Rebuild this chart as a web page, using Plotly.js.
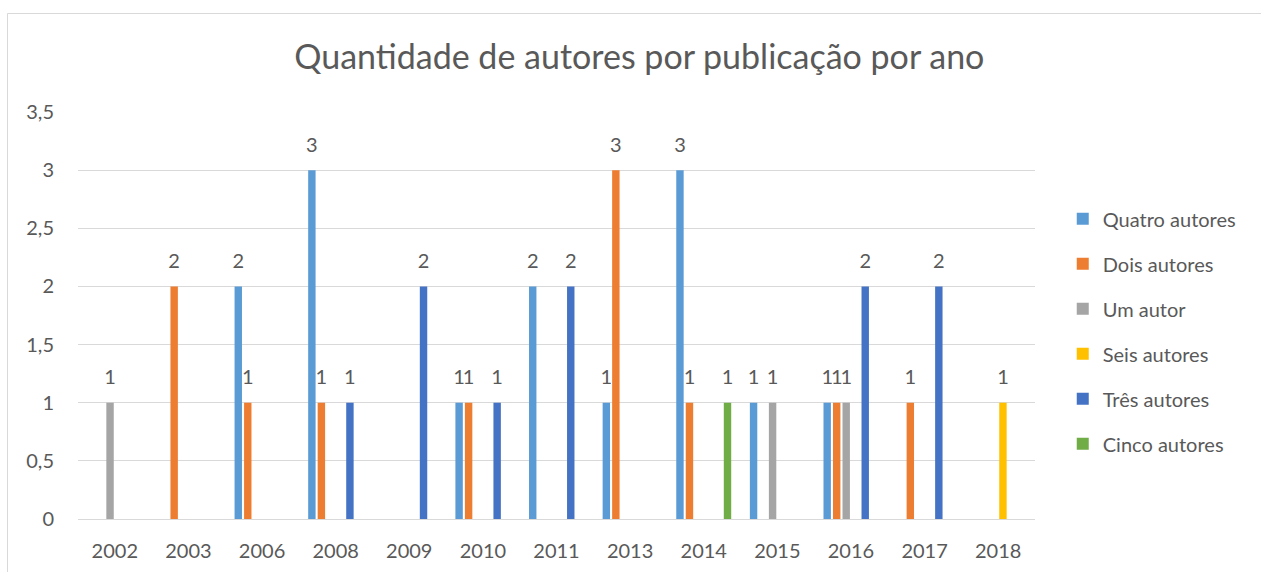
<!DOCTYPE html>
<html>
<head>
<meta charset="utf-8">
<script src="https://cdn.plot.ly/plotly-3.0.1.min.js"></script>
<style>
  html, body { margin: 0; padding: 0; background: #fff; }
  #chart { width: 1261px; height: 572px; }
</style>
</head>
<body>
<div id="chart"></div>
<script>
const years = ['2002','2003','2006','2008','2009','2010','2011','2013','2014','2015','2016','2017','2018'];
const seriesNames = ['Quatro autores','Dois autores','Um autor','Seis autores','Três autores','Cinco autores'];
const quatro = [null, null, 2, 3, null, 1, 2, 1, 3, 1, 1, null, null];
const dois   = [null, 2, 1, 1, null, 1, null, 3, 1, null, 1, 1, null];
const um     = [1, null, null, null, null, null, null, null, null, 1, 1, null, null];
const seis   = [null, null, null, null, null, null, null, null, null, null, null, null, 1];
const tres   = [null, null, null, 1, 2, 1, 2, null, null, null, 2, 2, null];
const cinco  = [null, null, null, null, null, null, null, null, 1, null, null, null, null];
const colors = ['#5B9BD5','#ED7D31','#A5A5A5','#FFC000','#4472C4','#70AD47'];
const yTicks = [0, 0.5, 1, 1.5, 2, 2.5, 3, 3.5];

const allSeries = [quatro, dois, um, seis, tres, cinco];
const FONT = 'Lato, "Open Sans", sans-serif';
const TXT = '#595959';

const traces = [];
allSeries.forEach((vals, i) => {
  traces.push({
    type: 'bar',
    name: seriesNames[i],
    x: years,
    y: vals,
    marker: { color: colors[i] },
    legendgroup: 'g' + i,
    offsetgroup: 'o' + i,
    hoverinfo: 'x+y+name'
  });
});
allSeries.forEach((vals, i) => {
  traces.push({
    type: 'scatter',
    mode: 'markers+text',
    orientation: 'v',
    x: years,
    y: vals,
    text: vals.map(v => v === null ? '' : String(v)),
    textposition: 'top center',
    textfont: { family: FONT, size: 20, color: TXT },
    marker: { size: 20, opacity: 0, color: colors[i] },
    offsetgroup: 'o' + i,
    showlegend: false,
    hoverinfo: 'skip',
    cliponaxis: false
  });
});

const layout = {
  width: 1261,
  height: 572,
  margin: { l: 78, r: 226, t: 112, b: 53 },
  paper_bgcolor: '#ffffff',
  plot_bgcolor: '#ffffff',
  separators: ',.',
  font: { family: FONT, color: TXT, size: 20 },
  title: {
    text: 'Quantidade de autores por publicação por ano',
    font: { family: FONT, size: 34, color: TXT },
    x: 0.507, xref: 'container', xanchor: 'center',
    y: 0.9, yref: 'container', yanchor: 'middle'
  },
  barmode: 'group',
  bargap: 0.225,
  bargroupgap: 0.22,
  scattermode: 'group',
  scattergap: 0.225,
  xaxis: {
    type: 'category',
    categoryorder: 'array',
    categoryarray: years,
    showgrid: false,
    zeroline: false,
    showline: false,
    ticks: 'outside',
    ticklen: 14,
    tickcolor: 'rgba(0,0,0,0)',
    tickfont: { family: FONT, size: 20, color: TXT },
    fixedrange: true
  },
  yaxis: {
    range: [0, 3.5],
    tickvals: yTicks,
    ticktext: yTicks.map(v => String(v).replace('.', ',')),
    showgrid: true,
    gridcolor: '#D9D9D9',
    gridwidth: 1,
    zeroline: true,
    zerolinecolor: '#D9D9D9',
    zerolinewidth: 1,
    showline: false,
    ticks: 'outside',
    ticklen: 19,
    tickcolor: 'rgba(0,0,0,0)',
    tickfont: { family: FONT, size: 20, color: TXT },
    fixedrange: true
  },
  legend: {
    x: 1.029, xanchor: 'left',
    y: 0.461, yanchor: 'middle',
    traceorder: 'grouped',
    tracegroupgap: 16,
    font: { family: FONT, size: 20, color: TXT },
    bgcolor: 'rgba(0,0,0,0)'
  },
  shapes: [{
    type: 'rect', xref: 'paper', yref: 'paper', layer: 'below',
    x0: (7.5 - 78) / 957, x1: 2, y0: -1, y1: (519 - 13.5) / 407,
    line: { color: '#D9D9D9', width: 1 },
    fillcolor: 'rgba(0,0,0,0)'
  }],
  showlegend: true
};

Plotly.newPlot('chart', traces, layout, { displayModeBar: false, staticPlot: true });
</script>
</body>
</html>
